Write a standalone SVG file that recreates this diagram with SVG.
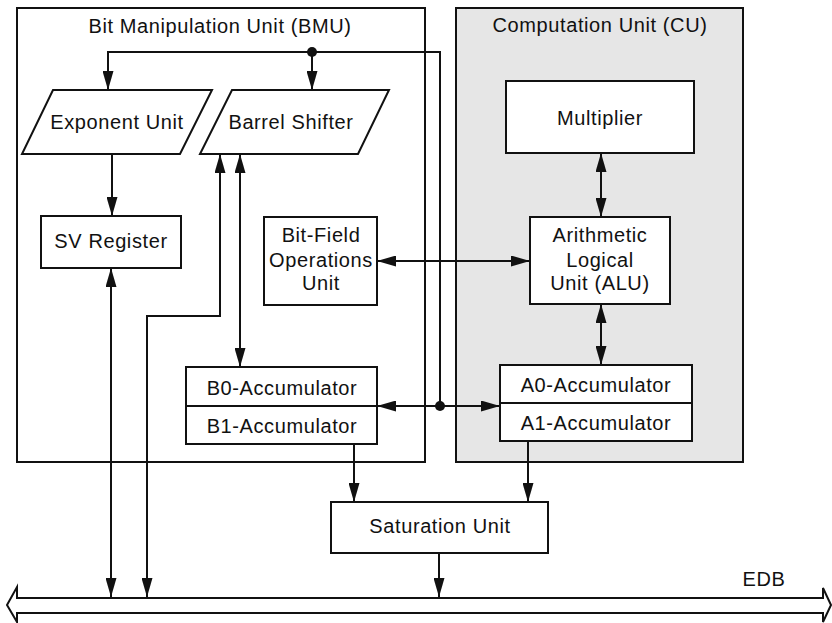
<svg xmlns="http://www.w3.org/2000/svg" width="832" height="623" viewBox="0 0 832 623">
  <style>
    text { font-family: "Liberation Sans", Arial, sans-serif; font-size: 20px; letter-spacing: 0.6px; fill: #111; text-anchor: middle; }
    .frame { fill: none; stroke: #111; stroke-width: 2; }
    .cu { fill: #e6e6e6; stroke: #111; stroke-width: 2; }
    .box { fill: #fff; stroke: #111; stroke-width: 2; }
    .wire { fill: none; stroke: #111; stroke-width: 2; }
    .one { marker-end: url(#head); }
    .two { marker-start: url(#head); marker-end: url(#head); }
    .dot { fill: #111; }
  </style>
  <defs>
    <marker id="head" markerUnits="userSpaceOnUse" markerWidth="19" markerHeight="11" refX="19" refY="5.5" orient="auto-start-reverse">
      <path d="M0,0 L19,5.5 L0,11 Z" fill="#111"/>
    </marker>
  </defs>

  <!-- enclosing units -->
  <g id="bmu">
    <rect class="frame" x="17" y="8" width="408" height="454"/>
    <text x="220" y="33">Bit Manipulation Unit (BMU)</text>
  </g>
  <g id="cu">
    <rect class="cu" x="456" y="8" width="287" height="454"/>
    <text x="600" y="32">Computation Unit (CU)</text>
  </g>

  <!-- connectors -->
  <g id="connectors">
    <path class="wire one" d="M440,406 L440,52 L108,52 L108,90"/>
    <path class="wire one" d="M312,52 L312,90"/>
    <path class="wire one" d="M112,154 L112,216"/>
    <path class="wire two" d="M111,268 L111,597"/>
    <path class="wire two" d="M220,154 L220,316 L147,316 L147,597"/>
    <path class="wire two" d="M240,154 L240,367"/>
    <path class="wire two" d="M377,261 L530,261"/>
    <path class="wire two" d="M377,406 L500,406"/>
    <path class="wire two" d="M601,153 L601,217"/>
    <path class="wire two" d="M601,304 L601,365"/>
    <path class="wire one" d="M354,444 L354,502"/>
    <path class="wire one" d="M528,441 L528,502"/>
    <path class="wire one" d="M439,553 L439,597"/>
    <circle class="dot" cx="312" cy="52" r="5"/>
    <circle class="dot" cx="440" cy="406" r="5"/>
  </g>

  <!-- nodes -->
  <g id="exponent-unit">
    <polygon class="box" points="53,90 212,90 180,154 22,154"/>
    <text x="117" y="129">Exponent Unit</text>
  </g>
  <g id="barrel-shifter">
    <polygon class="box" points="232,90 389,90 358,154 200,154"/>
    <text x="291" y="129">Barrel Shifter</text>
  </g>
  <g id="sv-register">
    <rect class="box" x="41" y="216" width="140" height="52"/>
    <text x="111" y="248">SV Register</text>
  </g>
  <g id="bit-field-unit">
    <rect class="box" x="264" y="217" width="113" height="88"/>
    <text x="321" y="242">Bit-Field</text>
    <text x="321" y="267">Operations</text>
    <text x="321" y="290">Unit</text>
  </g>
  <g id="b-accumulators">
    <rect class="box" x="186" y="367" width="191" height="77"/>
    <line class="wire" x1="186" y1="406" x2="377" y2="406"/>
    <text x="282" y="395">B0-Accumulator</text>
    <text x="282" y="433">B1-Accumulator</text>
  </g>
  <g id="multiplier">
    <rect class="box" x="506" y="81" width="188" height="72"/>
    <text x="600" y="125">Multiplier</text>
  </g>
  <g id="alu">
    <rect class="box" x="530" y="217" width="140" height="87"/>
    <text x="600" y="242">Arithmetic</text>
    <text x="600" y="267">Logical</text>
    <text x="600" y="290">Unit (ALU)</text>
  </g>
  <g id="a-accumulators">
    <rect class="box" x="500" y="365" width="192" height="76"/>
    <line class="wire" x1="500" y1="403" x2="692" y2="403"/>
    <text x="596" y="392">A0-Accumulator</text>
    <text x="596" y="430">A1-Accumulator</text>
  </g>
  <g id="saturation-unit">
    <rect class="box" x="331" y="502" width="217" height="51"/>
    <text x="440" y="533">Saturation Unit</text>
  </g>
  <g id="edb">
    <polygon class="box" points="7,605 17,587 17,598 823,598 823,588 831,605 823,622 823,613 17,613 17,622"/>
    <text x="764" y="586">EDB</text>
  </g>
</svg>
